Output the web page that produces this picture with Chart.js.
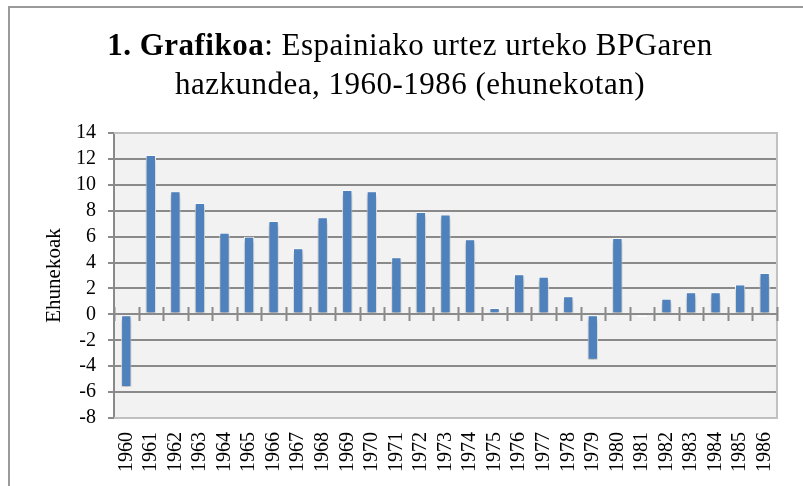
<!DOCTYPE html>
<html>
<head>
<meta charset="utf-8">
<script src="https://cdn.jsdelivr.net/npm/chart.js@4/dist/chart.umd.min.js"></script>
<style>
  html, body { margin: 0; padding: 0; background: #fff; }
  #wrap { position: relative; width: 803px; height: 486px; overflow: hidden; background: #fff; }
  #frame { position: absolute; left: 8px; top: 6px; width: 900px; height: 600px; border: 2px solid #9a9a9a; box-sizing: border-box; }
  #title { position: absolute; left: 8px; width: 804px; top: 25px; text-align: center;
           font-family: "Liberation Serif", "Times New Roman", serif; font-size: 31px; line-height: 39px;
           letter-spacing: 0.5px; color: #000; }
  #title b { font-weight: bold; }
  canvas { position: absolute; left: 0; top: 0; }
</style>
</head>
<body>
<div id="wrap">
  <div id="frame"></div>
  <canvas id="c" width="803" height="486"></canvas>
  <div id="title"><b>1. Grafikoa</b>: Espainiako urtez urteko BPGaren<br>hazkundea, 1960-1986 (ehunekotan)</div>
</div>
<script>
const years = ["1960","1961","1962","1963","1964","1965","1966","1967","1968","1969","1970","1971","1972","1973","1974","1975","1976","1977","1978","1979","1980","1981","1982","1983","1984","1985","1986"];
const growth = [-5.6, 12.3, 9.5, 8.6, 6.3, 6.0, 7.2, 5.1, 7.5, 9.6, 9.5, 4.4, 7.9, 7.7, 5.8, 0.5, 3.1, 2.9, 1.4, -3.5, 5.9, -0.2, 1.2, 1.7, 1.7, 2.3, 3.2];
const yMin = -8, yMax = 14, yStep = 2;
const yAxisTitle = "Ehunekoak";

const SERIF = '"Liberation Serif", "Times New Roman", serif';
const GRID = '#8a8a8a';
const BORDER_LIGHT = '#c0c0c0';

const plotDecor = {
  id: 'plotDecor',
  beforeDraw(chart) {
    const {ctx, chartArea: a} = chart;
    ctx.save();
    ctx.fillStyle = '#f2f2f2';
    ctx.fillRect(a.left, a.top, a.right - a.left, a.bottom - a.top);
    ctx.restore();
  },
  beforeDatasetsDraw(chart) {
    const {ctx, chartArea: a} = chart;
    ctx.save();
    ctx.strokeStyle = BORDER_LIGHT;
    ctx.lineWidth = 2;
    ctx.beginPath();
    ctx.moveTo(a.left, a.top);
    ctx.lineTo(a.right, a.top);
    ctx.lineTo(a.right, a.bottom);
    ctx.lineTo(a.left, a.bottom);
    ctx.stroke();
    ctx.restore();
    ctx.save();
    ctx.shadowColor = 'rgba(0,0,0,0.35)';
    ctx.shadowBlur = 5;
    ctx.shadowOffsetX = 0;
    ctx.shadowOffsetY = 3;
  },
  afterDatasetsDraw(chart) {
    const {ctx, chartArea: a, scales: {x, y}} = chart;
    ctx.restore();
    const y0 = Math.round(y.getPixelForValue(0));
    ctx.save();
    ctx.strokeStyle = GRID;
    ctx.lineWidth = 2;
    ctx.beginPath();
    ctx.moveTo(a.left, y0);
    ctx.lineTo(a.right, y0);
    const half = (x.getPixelForValue(1) - x.getPixelForValue(0)) / 2;
    for (let i = 0; i <= years.length; i++) {
      const px = Math.round(x.getPixelForValue(i) - half) + 0.5;
      ctx.moveTo(px, y0 - 7);
      ctx.lineTo(px, y0 + 7);
    }
    ctx.stroke();
    ctx.restore();
  }
};

new Chart(document.getElementById('c'), {
  type: 'bar',
  data: {
    labels: years,
    datasets: [{
      data: growth,
      backgroundColor: '#4f81bd',
      borderColor: '#ffffff',
      borderWidth: 1,
      borderSkipped: false,
      barPercentage: 0.42,
      categoryPercentage: 1.0
    }]
  },
  options: {
    responsive: false,
    animation: false,
    devicePixelRatio: 1,
    layout: { padding: { top: 133, right: 17, left: 0, bottom: 0 } },
    plugins: { legend: { display: false }, tooltip: { enabled: false }, title: { display: false } },
    scales: {
      x: {
        position: 'bottom',
        grid: { display: false, drawTicks: false },
        border: { display: false },
        ticks: {
          autoSkip: false, minRotation: 90, maxRotation: 90, padding: 14,
          color: '#000', font: { family: SERIF, size: 20 }
        },
        afterFit(s) { s.height = 68; }
      },
      y: {
        min: yMin, max: yMax,
        grid: { color: GRID, lineWidth: 2, drawTicks: true, tickLength: 6, tickColor: GRID },
        border: { display: true, color: GRID, width: 2 },
        ticks: { stepSize: yStep, autoSkip: false, padding: 12, color: '#000', font: { family: SERIF, size: 20 } },
        title: { display: true, text: yAxisTitle, color: '#000', font: { family: SERIF, size: 21 }, padding: { top: 42, bottom: 0 } },
        afterFit(s) { s.width = 114; }
      }
    }
  },
  plugins: [plotDecor]
});
</script>
</body>
</html>
